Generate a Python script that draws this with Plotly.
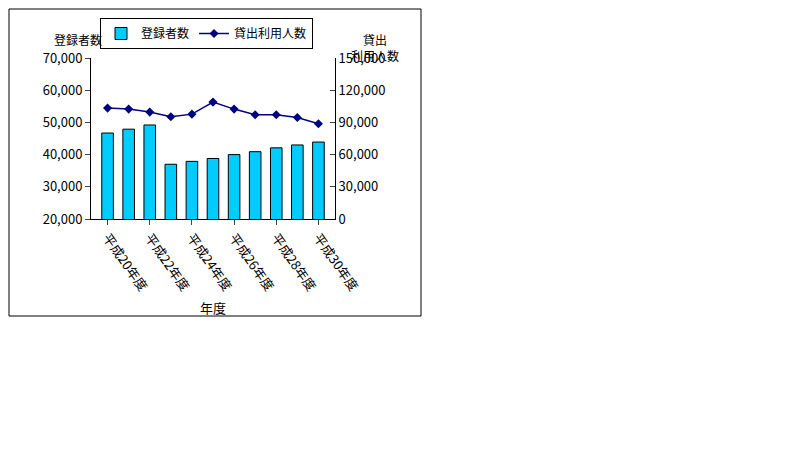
import plotly.graph_objects as go

years = ["平成20年度", "平成21年度", "平成22年度", "平成23年度", "平成24年度", "平成25年度",
         "平成26年度", "平成27年度", "平成28年度", "平成29年度", "平成30年度"]
registered = [46700, 47900, 49200, 37000, 37900, 38800, 40000, 40900, 42100, 43000, 43900]
lending = [103300, 102400, 99600, 95200, 97700, 108900, 102400, 97100, 97100, 94600, 88700]
shown_ticks = years[::2]

W, H = 800, 449
FONT = "Noto Sans CJK JP"

def px(x):
    return x / W

def py(y):
    return 1 - y / H

fig = go.Figure()
fig.add_bar(x=years, y=registered, name="登録者数", marker=dict(color="#00ccff", line=dict(color="black", width=1)),
            width=0.55)
fig.add_scatter(x=years, y=lending, name="貸出利用人数", yaxis="y2", mode="lines+markers",
                line=dict(color="#000080", width=1.5), marker=dict(symbol="diamond", size=7, color="#000080"))

fig.update_layout(
    width=W, height=H, margin=dict(l=0, r=0, t=0, b=0, autoexpand=False),
    paper_bgcolor="white", plot_bgcolor="white",
    font=dict(family=FONT, size=13, color="black"),
    showlegend=True,
    legend=dict(orientation="h", x=px(92), y=py(10), xanchor="left", yanchor="top",
                bordercolor="black", borderwidth=1, font=dict(size=12), itemwidth=30,
                tracegroupgap=0),
    xaxis=dict(domain=[px(83), px(327)], tickvals=shown_ticks, tickangle=55, showline=True,
               linecolor="black", ticks="outside", showgrid=False, automargin=False,
               title=dict(text="年度", font=dict(size=13), standoff=10)),
    yaxis=dict(domain=[py(211), py(50)], range=[20000, 70000], dtick=10000, tickformat=",",
               showline=True, linecolor="black", ticks="outside", showgrid=False, automargin=False),
    yaxis2=dict(overlaying="y", side="right", range=[0, 150000], dtick=30000, tickformat=",",
                showline=True, linecolor="black", ticks="inside", showgrid=False, anchor="x",
                automargin=False),
    shapes=[dict(type="rect", xref="paper", yref="paper", x0=px(1), x1=px(413), y0=py(308), y1=py(1),
                 line=dict(color="black", width=1))],
    annotations=[
        dict(text="登録者数", xref="paper", yref="paper", x=px(44), y=py(21), showarrow=False, font=dict(size=12)),
        dict(text="貸出<br>利用人数", xref="paper", yref="paper", x=px(367), y=py(21), showarrow=False,
             font=dict(size=12)),
    ],
)

fig.write_html("out.html")
